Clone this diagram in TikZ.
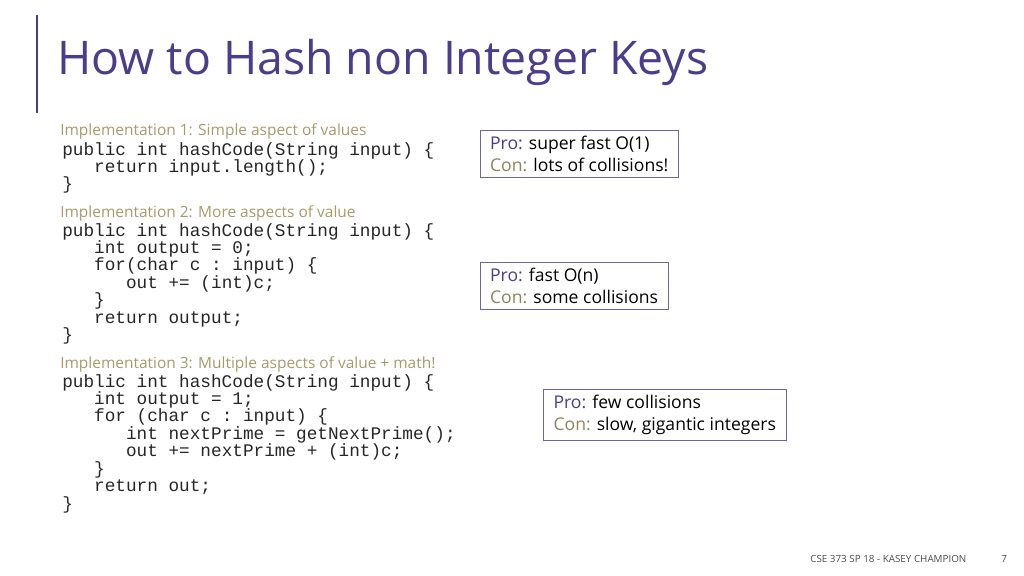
\documentclass[tikz,border=0pt]{standalone}
\usepackage{fontspec}
\setmainfont{Open Sans}
\setmonofont{Liberation Mono}
\definecolor{titlepurple}{HTML}{4B3C8C}
\definecolor{labeltan}{HTML}{A8996A}
\definecolor{boxline}{HTML}{6E64A0}
\tikzset{
  codeblock/.style={anchor=north west, inner sep=0pt, align=left, text=black!85, font=\ttfamily\fontsize{12.6}{12.4}\selectfont},
  impllabel/.style={anchor=west, inner sep=0pt, text=labeltan, font=\fontsize{11}{13}\selectfont},
  probox/.style={draw=boxline, anchor=north west, align=left, inner xsep=7pt, inner ysep=4pt, font=\fontsize{12.5}{16}\selectfont},
}
\newcommand{\pro}{\textcolor{titlepurple}{Pro:}}
\newcommand{\con}{\textcolor{labeltan!85!black}{Con:}}
\begin{document}
\begin{tikzpicture}[x=0.025cm, y=-0.025cm]
\useasboundingbox (0,0) rectangle (1024,576);
\draw[titlepurple, line width=1pt] (37,15) -- (37,113);
\node (title) [anchor=west, inner sep=0pt, text=titlepurple, font=\fontsize{33}{36}\selectfont] at (57,62) {How to Hash non Integer Keys};

\node (L1) [impllabel] at (60,131) {Implementation 1: Simple aspect of values};
\node (C1) [codeblock] at (62,142) {public int hashCode(String input) \{\\
\ \ \ return input.length();\\
\}};
\node (L2) [impllabel] at (60,213) {Implementation 2: More aspects of value};
\node (C2) [codeblock] at (62,223) {public int hashCode(String input) \{\\
\ \ \ int output = 0;\\
\ \ \ for(char c : input) \{\\
\ \ \ \ \ \ out += (int)c;\\
\ \ \ \}\\
\ \ \ return output;\\
\}};
\node (L3) [impllabel] at (60,364) {Implementation 3: Multiple aspects of value + math!};
\node (C3) [codeblock] at (62,374) {public int hashCode(String input) \{\\
\ \ \ int output = 1;\\
\ \ \ for (char c : input) \{\\
\ \ \ \ \ \ int nextPrime = getNextPrime();\\
\ \ \ \ \ \ out += nextPrime + (int)c;\\
\ \ \ \}\\
\ \ \ return out;\\
\}};

\node (P1) [probox, minimum width=195*0.025cm] at (480,130) {\pro{} super fast O(1)\\ \con{} lots of collisions!};
\node (P2) [probox, minimum width=184*0.025cm] at (480,262) {\pro{} fast O(n)\\ \con{} some collisions};
\node (P3) [probox, minimum width=243*0.025cm] at (543,389) {\pro{} few collisions\\ \con{} slow, gigantic integers};

\node (foot) [anchor=west, inner sep=0pt, text=black!70, font=\fontsize{7}{8}\selectfont] at (810,559) {CSE 373 SP 18 - KASEY CHAMPION};
\node (page) [anchor=west, inner sep=0pt, text=black!70, font=\fontsize{7}{8}\selectfont] at (1001,559) {7};
\end{tikzpicture}
\end{document}
